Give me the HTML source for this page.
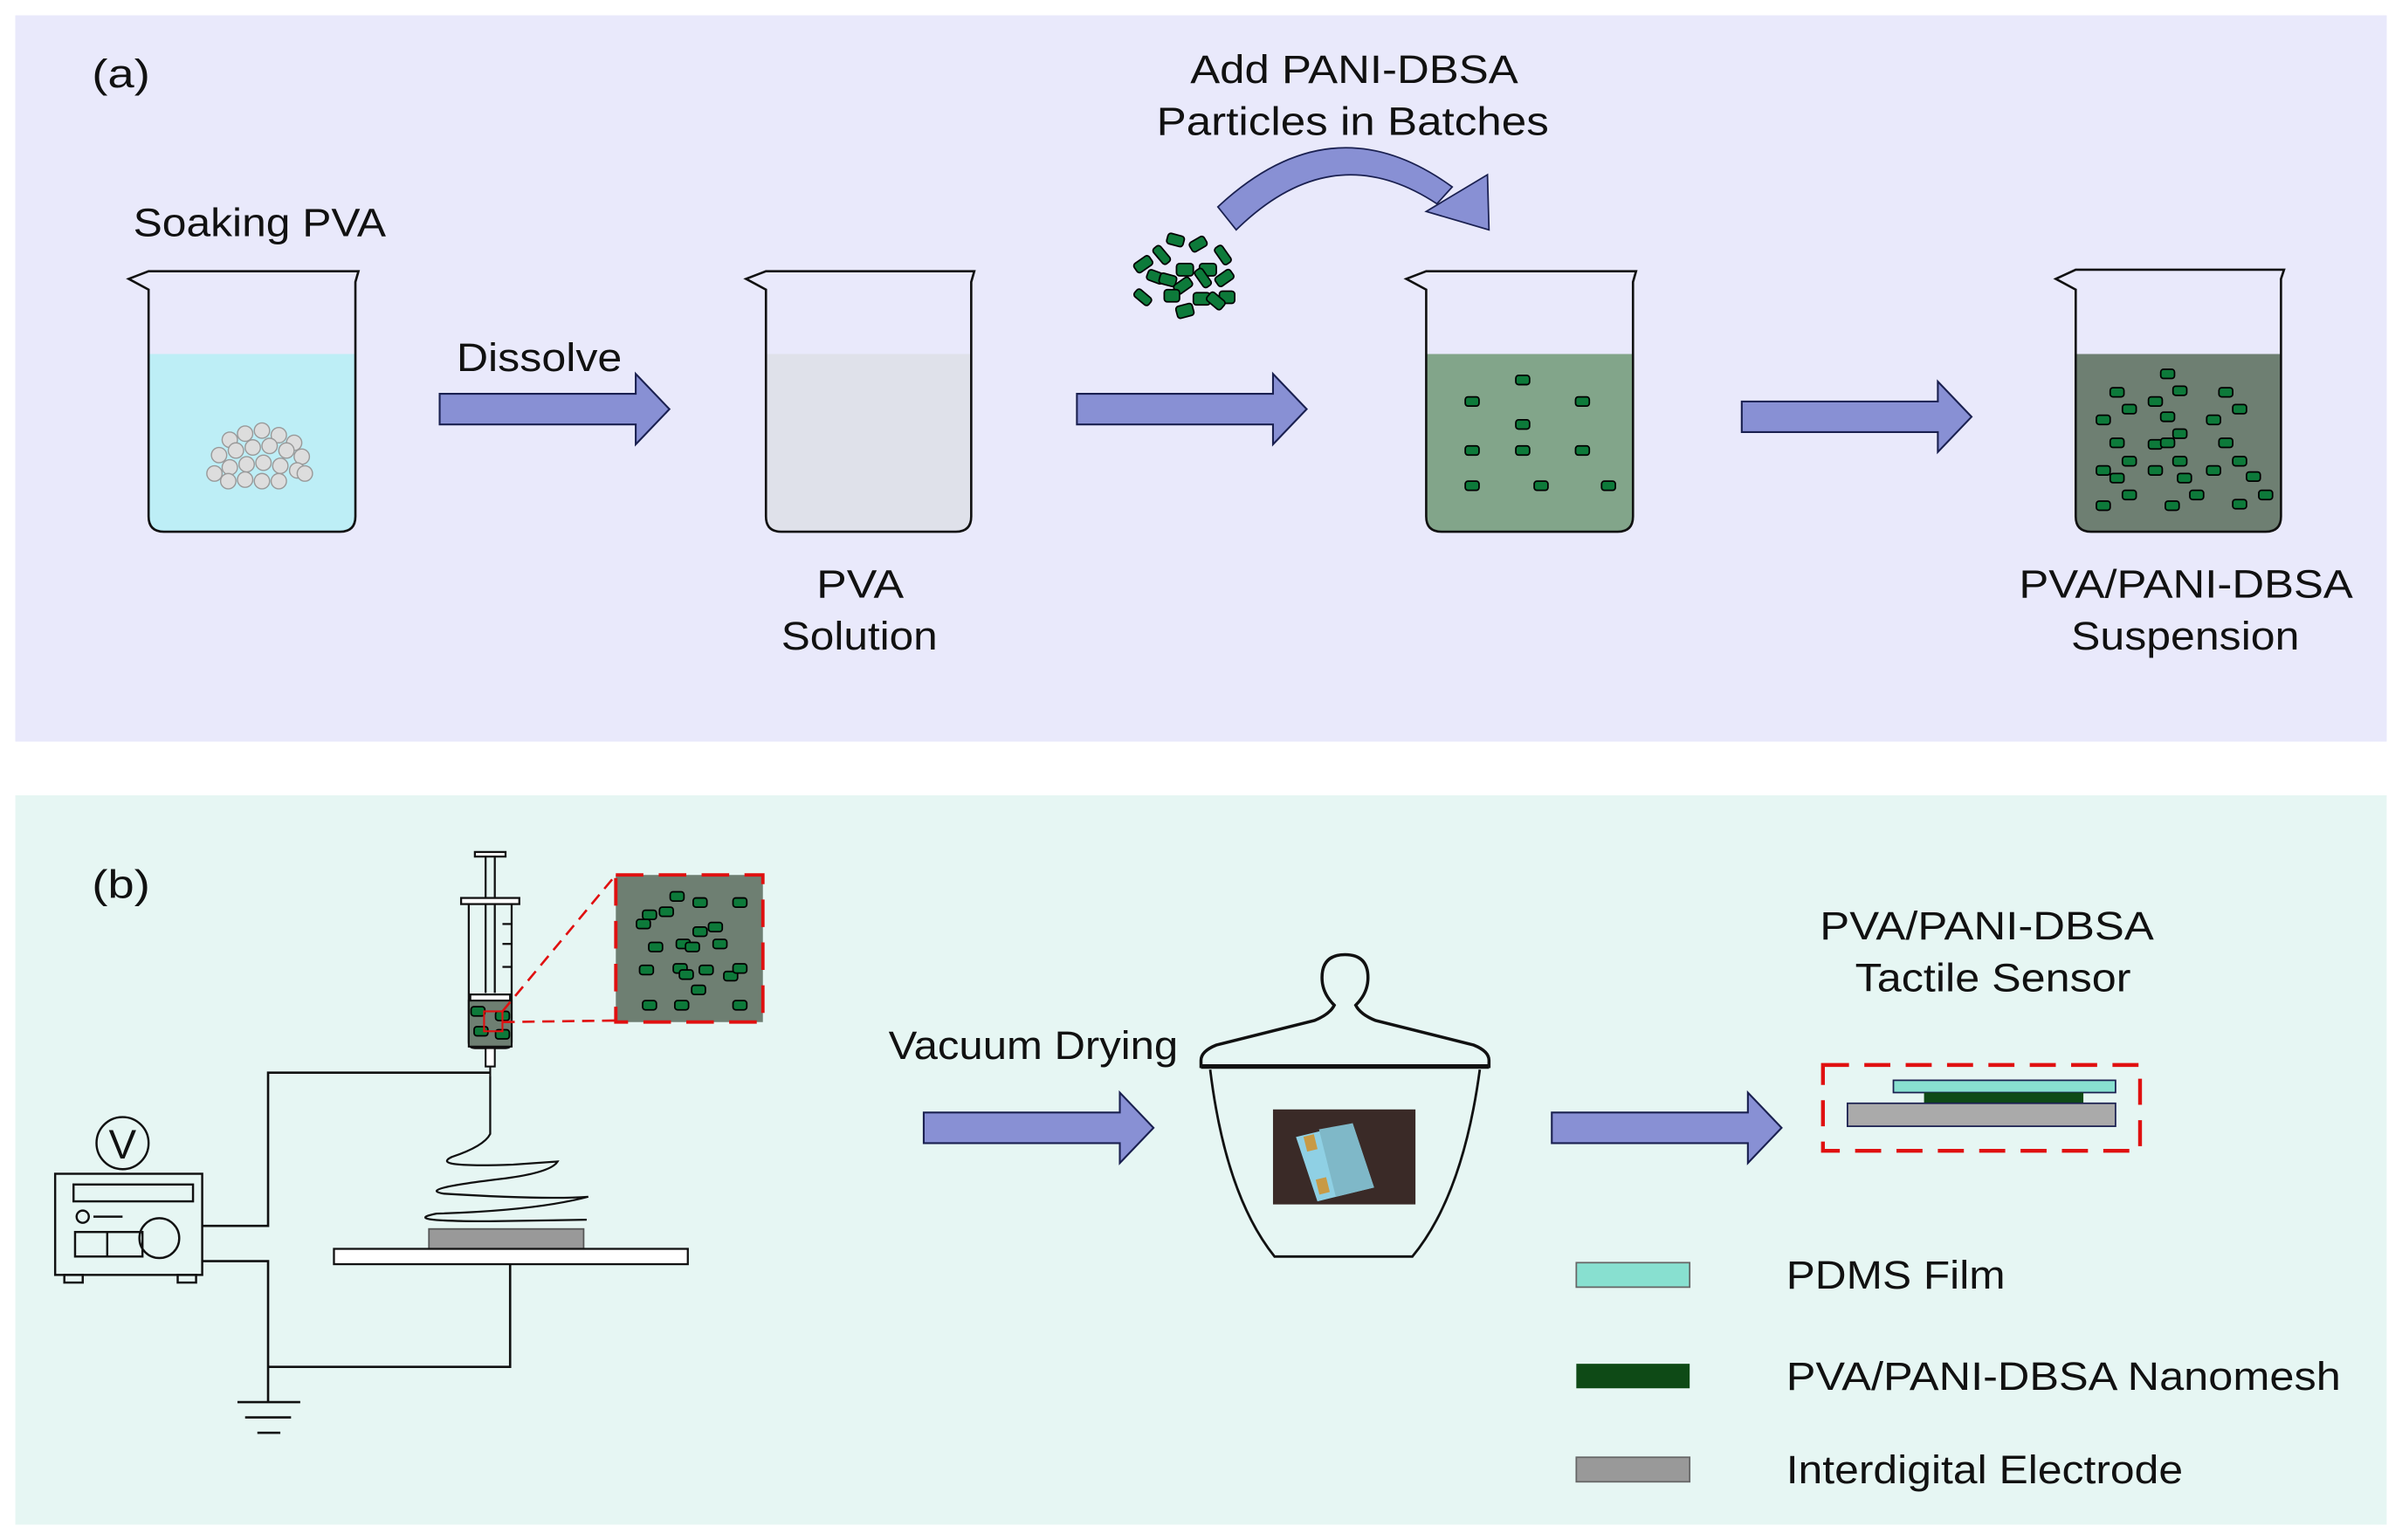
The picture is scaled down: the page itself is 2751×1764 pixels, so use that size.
<!DOCTYPE html>
<html><head><meta charset="utf-8"><style>
html,body{margin:0;padding:0;background:#fff}
svg{display:block}
text{font-family:"Liberation Sans",sans-serif;fill:#111}
</style></head><body>
<svg width="2751" height="1764" viewBox="0 0 1568 1005" preserveAspectRatio="none" xmlns="http://www.w3.org/2000/svg">
<defs>
<g id="arr"><path d="M0,-10 L128,-10 L128,-23 L150,0 L128,23 L128,10 L0,10 Z" fill="#8890d4" stroke="#1a2050" stroke-width="1.2"/></g>
<g id="p"><rect x="-4.5" y="-3" width="9" height="6" rx="1.8" fill="#0d7a3a" stroke="#000" stroke-width="1"/></g>
</defs>
<rect x="0" y="0" width="1568" height="1005" fill="#fff"/>
<rect x="10" y="10" width="1548" height="474" fill="#e9e9fb"/>
<rect x="10" y="519" width="1548" height="476" fill="#e6f6f3"/>

<g font-size="26" lengthAdjust="spacingAndGlyphs">
<text x="60" y="57" textLength="38" lengthAdjust="spacingAndGlyphs">(a)</text>
<text x="87" y="154" textLength="165" lengthAdjust="spacingAndGlyphs">Soaking PVA</text>
<text x="298" y="242" textLength="108" lengthAdjust="spacingAndGlyphs">Dissolve</text>
<text x="533" y="390" textLength="57" lengthAdjust="spacingAndGlyphs">PVA</text>
<text x="510" y="424" textLength="102" lengthAdjust="spacingAndGlyphs">Solution</text>
<text x="777" y="54" textLength="214" lengthAdjust="spacingAndGlyphs">Add PANI-DBSA</text>
<text x="755" y="88" textLength="256" lengthAdjust="spacingAndGlyphs">Particles  in Batches</text>
<text x="1318" y="390" textLength="218" lengthAdjust="spacingAndGlyphs">PVA/PANI-DBSA</text>
<text x="1352" y="424" textLength="149" lengthAdjust="spacingAndGlyphs">Suspension</text>
<text x="60" y="586" textLength="38" lengthAdjust="spacingAndGlyphs">(b)</text>
<text x="580" y="691" textLength="189" lengthAdjust="spacingAndGlyphs">Vacuum Drying</text>
<text x="1188" y="613" textLength="218" lengthAdjust="spacingAndGlyphs">PVA/PANI-DBSA</text>
<text x="1211" y="647" textLength="180" lengthAdjust="spacingAndGlyphs">Tactile Sensor</text>
<text x="1166" y="841" textLength="143" lengthAdjust="spacingAndGlyphs">PDMS Film</text>
<text x="1166" y="907" textLength="362" lengthAdjust="spacingAndGlyphs">PVA/PANI-DBSA Nanomesh</text>
<text x="1166" y="968" textLength="259" lengthAdjust="spacingAndGlyphs">Interdigital Electrode</text>
</g>

<!-- beaker 1 -->
<path d="M97,231 L232,231 L232,337 Q232,347 222,347 L107,347 Q97,347 97,337 Z" fill="#bdeef6"/>
<path d="M84,182 L97,177 L234,177 L232,184 L232,337 Q232,347 222,347 L107,347 Q97,347 97,337 L97,189 Z" fill="none" stroke="#111" stroke-width="1.5"/>
<g fill="#ddd" stroke="#999" stroke-width="0.8">
<circle cx="150" cy="287" r="5"/><circle cx="160" cy="283" r="5"/><circle cx="171" cy="281" r="5"/><circle cx="182" cy="284" r="5"/><circle cx="192" cy="289" r="5"/>
<circle cx="143" cy="297" r="5"/><circle cx="154" cy="294" r="5"/><circle cx="165" cy="292" r="5"/><circle cx="176" cy="291" r="5"/><circle cx="187" cy="294" r="5"/><circle cx="197" cy="298" r="5"/>
<circle cx="140" cy="309" r="5"/><circle cx="150" cy="305" r="5"/><circle cx="161" cy="303" r="5"/><circle cx="172" cy="302" r="5"/><circle cx="183" cy="304" r="5"/><circle cx="194" cy="307" r="5"/>
<circle cx="149" cy="314" r="5"/><circle cx="160" cy="313" r="5"/><circle cx="171" cy="314" r="5"/><circle cx="182" cy="314" r="5"/><circle cx="199" cy="309" r="5"/>
</g>
<!-- beaker 2 -->
<path d="M500,231 L634,231 L634,337 Q634,347 624,347 L510,347 Q500,347 500,337 Z" fill="#dfe1ea"/>
<path d="M487,182 L500,177 L636,177 L634,184 L634,337 Q634,347 624,347 L510,347 Q500,347 500,337 L500,189 Z" fill="none" stroke="#111" stroke-width="1.5"/>
<!-- beaker 3 -->
<path d="M931,231 L1066,231 L1066,337 Q1066,347 1056,347 L941,347 Q931,347 931,337 Z" fill="#82a58a"/>
<path d="M918,182 L931,177 L1068,177 L1066,184 L1066,337 Q1066,347 1056,347 L941,347 Q931,347 931,337 L931,189 Z" fill="none" stroke="#111" stroke-width="1.5"/>
<g>
<use href="#p" x="994" y="248"/><use href="#p" x="961" y="262"/><use href="#p" x="1033" y="262"/><use href="#p" x="994" y="277"/>
<use href="#p" x="961" y="294"/><use href="#p" x="994" y="294"/><use href="#p" x="1033" y="294"/>
<use href="#p" x="961" y="317"/><use href="#p" x="1006" y="317"/><use href="#p" x="1050" y="317"/>
</g>
<!-- beaker 4 -->
<path d="M1355,231 L1489,231 L1489,337 Q1489,347 1479,347 L1365,347 Q1355,347 1355,337 Z" fill="#6e7f72"/>
<path d="M1342,182 L1355,176 L1491,176 L1489,182 L1489,337 Q1489,347 1479,347 L1365,347 Q1355,347 1355,337 L1355,189 Z" fill="none" stroke="#111" stroke-width="1.5"/>
<g>
<use href="#p" x="1415" y="244"/><use href="#p" x="1382" y="256"/><use href="#p" x="1423" y="255"/><use href="#p" x="1453" y="256"/>
<use href="#p" x="1407" y="262"/><use href="#p" x="1390" y="267"/><use href="#p" x="1462" y="267"/><use href="#p" x="1373" y="274"/>
<use href="#p" x="1415" y="272"/><use href="#p" x="1445" y="274"/><use href="#p" x="1423" y="283"/><use href="#p" x="1382" y="289"/>
<use href="#p" x="1407" y="290"/><use href="#p" x="1415" y="289"/><use href="#p" x="1453" y="289"/><use href="#p" x="1390" y="301"/>
<use href="#p" x="1423" y="301"/><use href="#p" x="1462" y="301"/><use href="#p" x="1373" y="307"/><use href="#p" x="1407" y="307"/>
<use href="#p" x="1445" y="307"/><use href="#p" x="1382" y="312"/><use href="#p" x="1426" y="312"/><use href="#p" x="1471" y="311"/>
<use href="#p" x="1390" y="323"/><use href="#p" x="1434" y="323"/><use href="#p" x="1479" y="323"/><use href="#p" x="1373" y="330"/>
<use href="#p" x="1418" y="330"/><use href="#p" x="1462" y="329"/>
</g>
<!-- particle pile -->
<g fill="#0d7a3a" stroke="#000" stroke-width="1">
<rect x="762" y="153" width="11" height="7" rx="2" transform="rotate(15 767 156)"/>
<rect x="777" y="156" width="11" height="7" rx="2" transform="rotate(-30 782 160)"/>
<rect x="752" y="163" width="13" height="6" rx="2" transform="rotate(50 758 166)"/>
<rect x="792" y="163" width="13" height="6" rx="2" transform="rotate(55 798 166)"/>
<rect x="740" y="169" width="12" height="7" rx="2" transform="rotate(-35 746 172)"/>
<rect x="768" y="172" width="11" height="8" rx="2"/>
<rect x="783" y="172" width="11" height="8" rx="2"/>
<rect x="749" y="177" width="11" height="7" rx="2" transform="rotate(20 754 180)"/>
<rect x="757" y="179" width="11" height="7" rx="2" transform="rotate(15 762 182)"/>
<rect x="766" y="183" width="12" height="7" rx="2" transform="rotate(-35 772 186)"/>
<rect x="779" y="178" width="13" height="6" rx="2" transform="rotate(55 785 181)"/>
<rect x="793" y="178" width="12" height="7" rx="2" transform="rotate(-35 799 181)"/>
<rect x="740" y="191" width="12" height="6" rx="2" transform="rotate(40 746 194)"/>
<rect x="760" y="189" width="10" height="8" rx="2"/>
<rect x="779" y="191" width="11" height="8" rx="2"/>
<rect x="796" y="190" width="10" height="8" rx="2"/>
<rect x="768" y="199" width="11" height="8" rx="2" transform="rotate(-15 773 203)"/>
<rect x="788" y="193" width="12" height="7" rx="2" transform="rotate(40 794 196)"/>
</g>
<!-- curved arrow -->
<path d="M795,135 Q870,65 948,122 L938,133 Q870,88 807,150 Z" fill="#8890d4" stroke="#1a2050" stroke-width="1"/>
<path d="M931,138 L971,114 L972,150 Z" fill="#8890d4" stroke="#1a2050" stroke-width="1"/>

<use href="#arr" x="287" y="267"/>
<use href="#arr" x="703" y="267"/>
<use href="#arr" x="1137" y="272"/>
<use href="#arr" x="603" y="736"/>
<use href="#arr" x="1013" y="736"/>

<!-- syringe -->
<g stroke="#111" stroke-width="1.3" fill="none">
<rect x="310" y="556" width="20" height="3" fill="#fff"/>
<line x1="317" y1="559" x2="317" y2="590"/><line x1="323" y1="559" x2="323" y2="590"/>
<rect x="301" y="586" width="38" height="4" fill="#fff"/>
<path d="M306,590 L306,680 Q306,684 310,684 L330,684 Q334,684 334,680 L334,590"/>
<line x1="317" y1="590" x2="317" y2="648"/><line x1="323" y1="590" x2="323" y2="648"/>
<line x1="328" y1="603" x2="334" y2="603"/><line x1="328" y1="616" x2="334" y2="616"/><line x1="328" y1="631" x2="334" y2="631"/>
<rect x="307" y="649" width="26" height="4" fill="#fff"/>
</g>
<rect x="306" y="653" width="28" height="30" fill="#6e7f72" stroke="#111" stroke-width="1.2"/>
<use href="#p" x="312" y="660"/><use href="#p" x="328" y="663"/><use href="#p" x="314" y="673"/><use href="#p" x="328" y="675"/>
<rect x="316" y="660" width="12" height="13" fill="none" stroke="#e01010" stroke-width="1.2"/>
<rect x="317" y="684" width="6" height="12" fill="#fff" stroke="#111" stroke-width="1.2"/>
<line x1="320" y1="696" x2="320" y2="702" stroke="#111" stroke-width="1.2"/>
<!-- inset -->
<line x1="328" y1="660" x2="402" y2="571" stroke="#e01010" stroke-width="1.5" stroke-dasharray="8,5"/>
<line x1="328" y1="667" x2="402" y2="666" stroke="#e01010" stroke-width="1.5" stroke-dasharray="8,5"/>
<rect x="402" y="571" width="96" height="96" fill="#6e7f72" stroke="#e01010" stroke-width="2.2" stroke-dasharray="18,10"/>
<g>
<use href="#p" x="424" y="597"/><use href="#p" x="442" y="585"/><use href="#p" x="457" y="589"/><use href="#p" x="483" y="589"/>
<use href="#p" x="435" y="595"/><use href="#p" x="420" y="603"/><use href="#p" x="467" y="605"/><use href="#p" x="457" y="608"/>
<use href="#p" x="428" y="618"/><use href="#p" x="446" y="616"/><use href="#p" x="452" y="618"/><use href="#p" x="470" y="616"/>
<use href="#p" x="422" y="633"/><use href="#p" x="444" y="632"/><use href="#p" x="448" y="636"/><use href="#p" x="461" y="633"/>
<use href="#p" x="477" y="637"/><use href="#p" x="483" y="632"/><use href="#p" x="456" y="646"/>
<use href="#p" x="424" y="656"/><use href="#p" x="445" y="656"/><use href="#p" x="483" y="656"/>
</g>
<!-- wires -->
<g stroke="#111" stroke-width="1.5" fill="none">
<polyline points="320,700 175,700 175,800 132,800"/>
<polyline points="132,823 175,823 175,915"/>
<polyline points="175,892 333,892 333,825"/>
<line x1="155" y1="915" x2="196" y2="915"/><line x1="160" y1="925" x2="190" y2="925"/><line x1="168" y1="935" x2="183" y2="935"/>
<path d="M320,702 L320,740 Q316,748 295,755 Q280,762 335,760 L364,758 Q360,765 330,769 Q270,776 290,779 Q355,783 384,781 Q350,790 285,792 Q260,797 320,797 L383,796" stroke-width="1.3"/>
</g>
<rect x="280" y="802" width="101" height="13" fill="#999" stroke="#555" stroke-width="1"/>
<rect x="218" y="815" width="231" height="10" fill="#fff" stroke="#111" stroke-width="1.3"/>
<!-- power supply -->
<g stroke="#111" stroke-width="1.4" fill="none">
<circle cx="80" cy="746" r="17"/>
<rect x="36" y="766" width="96" height="66"/>
<rect x="48" y="773" width="78" height="11"/>
<circle cx="54" cy="794" r="4"/><line x1="61" y1="794" x2="80" y2="794"/>
<rect x="49" y="804" width="44" height="16"/><line x1="70" y1="804" x2="70" y2="820"/>
<circle cx="104" cy="808" r="13"/>
<rect x="42" y="832" width="12" height="5"/><rect x="116" y="832" width="12" height="5"/>
</g>
<text x="80" y="756" font-size="27" text-anchor="middle">V</text>

<!-- desiccator -->
<g stroke="#111" stroke-width="2" fill="none">
<path d="M871,656 Q863,648 863,638 Q863,623 878,623 Q893,623 893,638 Q893,648 885,656 Q888,662 898,666 L962,682 Q972,686 972,692 L972,696 L784,696 L784,692 Q784,686 794,682 L858,666 Q868,662 871,656 Z"/>
<line x1="784" y1="696" x2="972" y2="696" stroke-width="3"/>
<path d="M790,698 Q800,780 832,820 L922,820 Q955,780 966,698" stroke-width="1.6"/>
</g>
<rect x="831" y="724" width="93" height="62" fill="#3a2a27"/>
<polygon points="846,742 883,733 897,775 860,784" fill="#8fd0e4"/>
<polygon points="861,737 883,733 897,775 872,781" fill="#7fb8c8"/>
<rect x="852" y="741" width="7" height="10" fill="#c89a45" transform="rotate(-14 855 746)"/>
<rect x="860" y="769" width="7" height="10" fill="#c89a45" transform="rotate(-14 863 774)"/>

<!-- sensor -->
<rect x="1190" y="695" width="207" height="56" fill="none" stroke="#e01010" stroke-width="2.5" stroke-dasharray="17,10"/>
<rect x="1236" y="705" width="145" height="8" fill="#88e0d0" stroke="#1a2050" stroke-width="1"/>
<rect x="1256" y="713" width="104" height="7" fill="#0e4a16"/>
<rect x="1206" y="720" width="175" height="15" fill="#aaaaaa" stroke="#1a2050" stroke-width="1"/>

<!-- legend -->
<rect x="1029" y="824" width="74" height="16" fill="#88e0d0" stroke="#666" stroke-width="1"/>
<rect x="1029" y="890" width="74" height="16" fill="#0e4a16"/>
<rect x="1029" y="951" width="74" height="16" fill="#999" stroke="#666" stroke-width="1"/>
</svg>
</body></html>
